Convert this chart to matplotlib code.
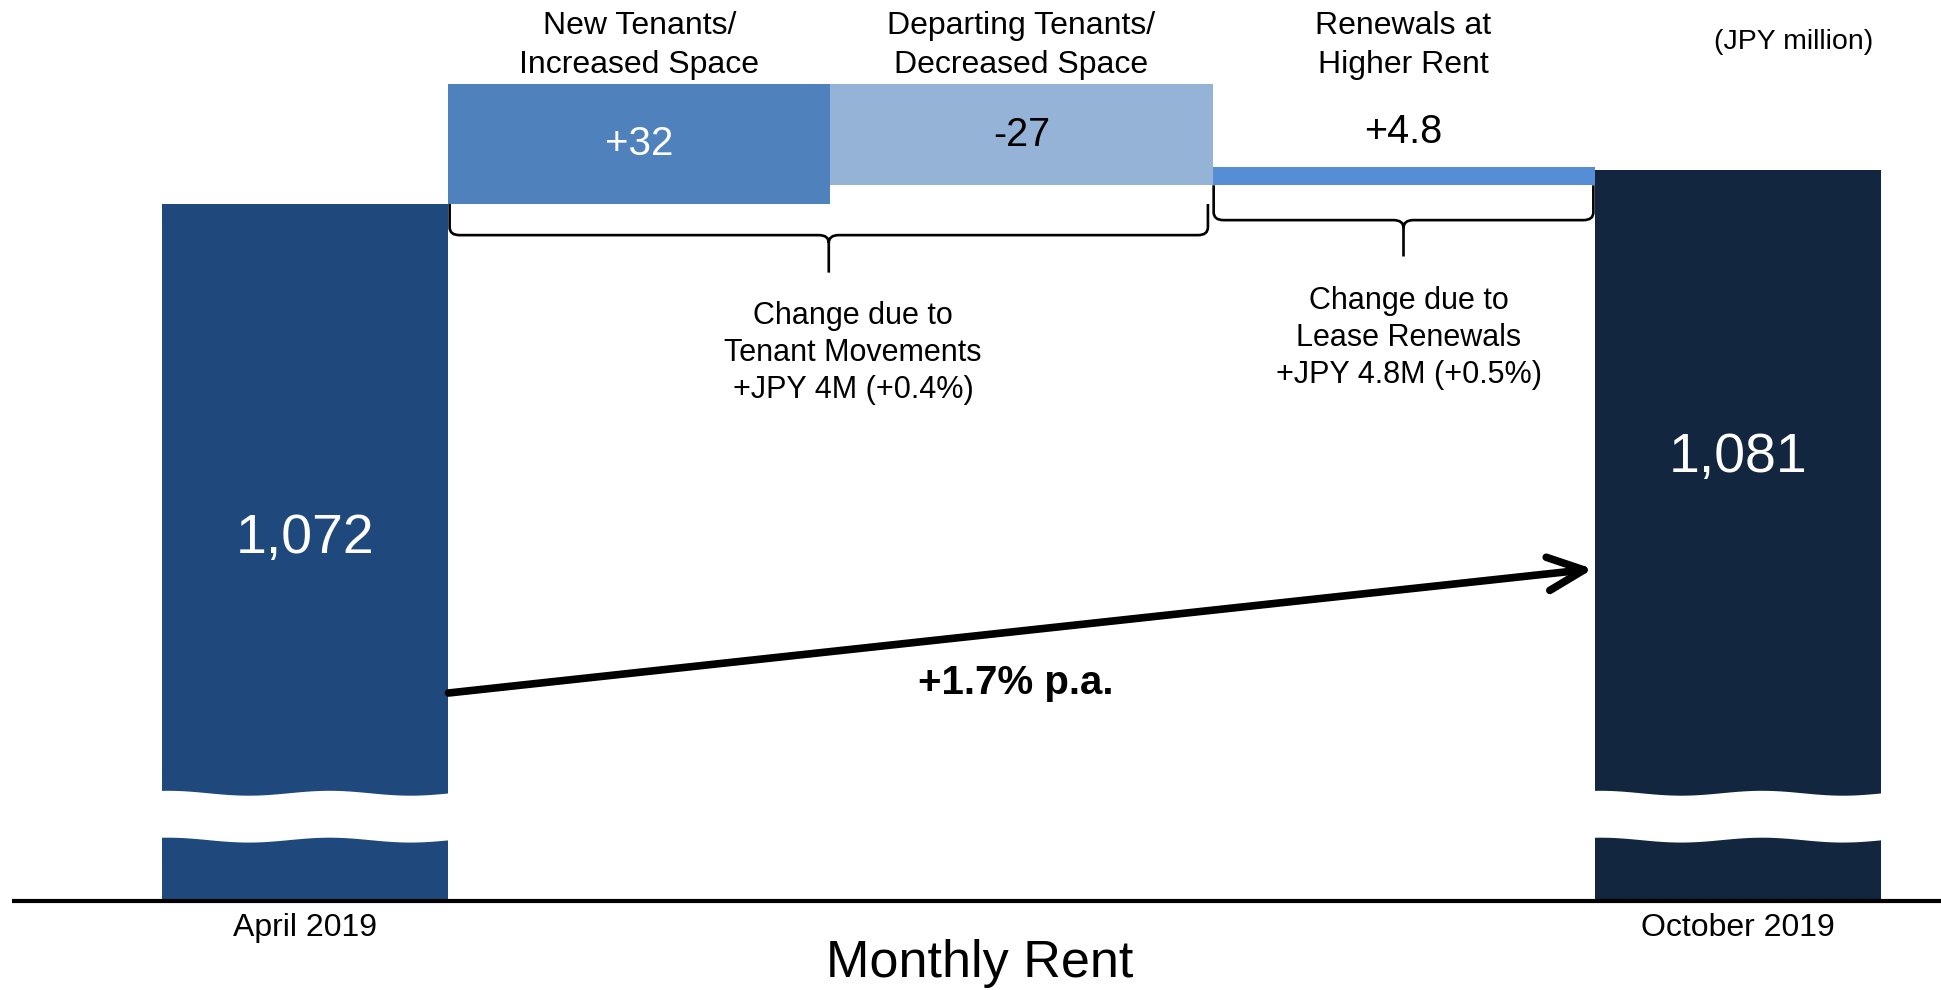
import numpy as np
import matplotlib.pyplot as plt
from matplotlib.path import Path
from matplotlib.patches import PathPatch, FancyArrowPatch

plt.rcParams['font.family'] = ['Liberation Sans', 'DejaVu Sans']

# monthly rent, JPY million
categories = ["April 2019", "New Tenants/\nIncreased Space", "Departing Tenants/\nDecreased Space",
              "Renewals at\nHigher Rent", "October 2019"]
start_rent = 1072
end_rent = 1081
changes = [32, -27, 4.8]
change_labels = ["+32", "-27", "+4.8"]
total_labels = ["1,072", "1,081"]
growth_label = "+1.7% p.a."
bracket_texts = ["Change due to\nTenant Movements\n+JPY 4M (+0.4%)",
                 "Change due to\nLease Renewals\n+JPY 4.8M (+0.5%)"]
unit_label = "(JPY million)"
axis_title = "Monthly Rent"

# layout / style
widths = np.array([0.75, 1.0, 1.0, 1.0, 0.75])
edges = np.concatenate([[0], np.cumsum(widths)])
centers = edges[:-1] + widths / 2
colors = ["#1F497D", "#4F81BD", "#95B3D7", "#558ED5", "#12263F"]
axis_floor = 886      # broken axis, bars are cut here
break_lo, break_hi = 902.5, 915

fig = plt.figure(figsize=(19.41, 9.9), dpi=100)
ax = fig.add_axes([0, 0, 1, 1])
ax.axis('off')
ax.set_xlim(-0.424, 4.657)
ax.set_ylim(862.4, 1126.4)
xt = ax.get_xaxis_transform()

# waterfall
bottoms, heights = [], []
running = start_rent
for c in changes:
    bottoms.append(running if c > 0 else running + c)
    heights.append(abs(c))
    running += c
all_bottoms = [axis_floor] + bottoms + [axis_floor]
all_heights = [start_rent - axis_floor] + heights + [end_rent - axis_floor]
ax.bar(centers, all_heights, width=widths, bottom=all_bottoms, color=colors, linewidth=0, zorder=2)

# wavy break on the end bars
for i in (0, 4):
    t = np.linspace(0, 1, 200)
    x = edges[i] - 0.006 + (widths[i] + 0.012) * t
    wave = 0.65 * np.cos(2 * np.pi * 1.8 * t - 0.3)
    ax.fill_between(x, break_lo + wave, break_hi + wave, color='white', linewidth=0, zorder=3)

ax.plot([-0.393, 4.657], [axis_floor, axis_floor], color='black', lw=3, zorder=4, solid_capstyle='butt')

# value labels
ax.text(centers[0], 0.456, total_labels[0], transform=xt, ha='center', va='center', color='white', fontsize=40)
ax.text(centers[4], 0.537, total_labels[1], transform=xt, ha='center', va='center', color='white', fontsize=40)
ax.text(centers[1], bottoms[0] + heights[0] / 2, change_labels[0], ha='center', va='center', color='white', fontsize=29)
ax.text(centers[2], bottoms[1] + heights[1] / 2, change_labels[1], ha='center', va='center', color='black', fontsize=28.5)
ax.annotate(change_labels[2], (centers[3], bottoms[2] + heights[2]), xytext=(0, 12), textcoords='offset points',
            ha='center', va='bottom', color='black', fontsize=28.5)

# category labels
for i in (1, 2, 3):
    ax.text(centers[i], 0.954, categories[i], transform=xt, ha='center', va='center', fontsize=23, linespacing=1.4)
ax.text(centers[0], 0.063, categories[0], transform=xt, ha='center', va='center', fontsize=23)
ax.text(centers[4], 0.063, categories[4], transform=xt, ha='center', va='center', fontsize=23)
ax.text(4.272, 0.958, unit_label, transform=xt, ha='center', va='center', fontsize=20.5)
ax.text(2.14, 0.027, axis_title, transform=xt, ha='center', va='center', fontsize=37.5)


def bracket(x0, x1, ytop, yh, ytip, rx=0.026, ry=2.1):
    xm = (x0 + x1) / 2
    verts = [(x0, ytop), (x0, yh + ry), (x0, yh), (x0 + rx, yh), (xm - rx, yh), (xm, yh), (xm, yh - ry),
             (xm, ytip),
             (xm, yh - ry), (xm, yh), (xm + rx, yh), (x1 - rx, yh), (x1, yh), (x1, yh + ry), (x1, ytop)]
    codes = [Path.MOVETO, Path.LINETO, Path.CURVE3, Path.CURVE3, Path.LINETO, Path.CURVE3, Path.CURVE3,
             Path.LINETO,
             Path.MOVETO, Path.CURVE3, Path.CURVE3, Path.LINETO, Path.CURVE3, Path.CURVE3, Path.LINETO]
    ax.add_patch(PathPatch(Path(verts, codes), fill=False, lw=1.9, edgecolor='black', zorder=4))


bracket(edges[1] + 0.003, edges[3] - 0.012, bottoms[0], bottoms[0] - 8.3, bottoms[0] - 18.3)
bracket(edges[3] + 0.003, edges[4] - 0.003, bottoms[2], bottoms[2] - 9.3, bottoms[2] - 19)
ax.text(1.809, 0.6435, bracket_texts[0], transform=xt, ha='center', va='center', fontsize=22, linespacing=1.3)
ax.text(3.264, 0.6585, bracket_texts[1], transform=xt, ha='center', va='center', fontsize=22, linespacing=1.3)

# growth arrow
arrow = FancyArrowPatch((edges[1], 0.30), (edges[4] - 0.004, 0.4253), transform=xt,
                        arrowstyle='->,head_length=2.6,head_width=1.2', mutation_scale=10,
                        lw=5.5, color='black', shrinkA=0, shrinkB=0, capstyle='round', joinstyle='round', zorder=5)
ax.add_patch(arrow)
ax.text(2.236, 0.31, growth_label, transform=xt, ha='center', va='center', fontsize=29, fontweight='bold')

fig.savefig('out.png', dpi=100)
